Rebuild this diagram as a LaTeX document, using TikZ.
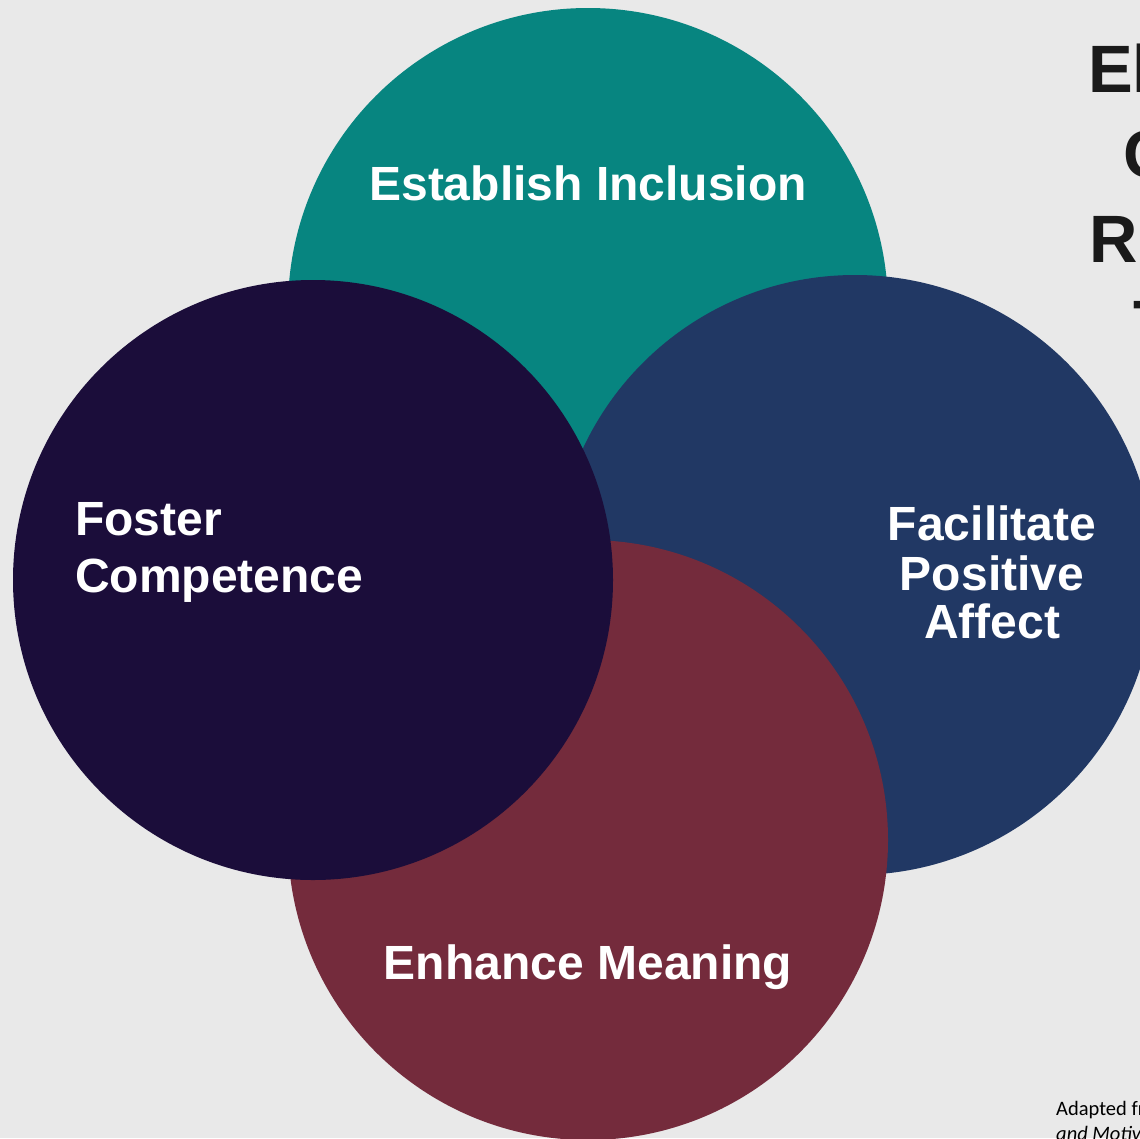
\documentclass[tikz,border=0pt]{standalone}
\usepackage{fontspec}
\setmainfont{Liberation Sans}
\newfontfamily\notefont{Carlito}
\definecolor{bgc}{HTML}{E9E9E9}
\definecolor{tealc}{HTML}{078580}
\definecolor{navyc}{HTML}{213864}
\definecolor{maroonc}{HTML}{742B3C}
\definecolor{purplec}{HTML}{1B0D3A}
\definecolor{titlec}{HTML}{1A1A1A}
\begin{document}
\begin{tikzpicture}[x=1pt,y=-1pt,
  disc/.style={circle,draw=none,inner sep=0pt,minimum size=600pt},
  lbl/.style={text=white,inner sep=0pt,font=\bfseries\fontsize{48}{49}\selectfont},
  ttl/.style={text=titlec,inner sep=0pt,anchor=base,font=\bfseries\fontsize{67}{80}\selectfont},
  note/.style={text=black,inner sep=0pt,anchor=base west,font=\notefont\fontsize{20.5}{24}\selectfont}]
\useasboundingbox (0,0) rectangle (1140,1138);
\begin{scope}
\clip (0,0) rectangle (1140,1138);
\fill[bgc] (0,0) rectangle (1140,1138);
% circles (bottom to top)
\node[disc,fill=tealc] (inclusion) at (588,308) {};
\node[disc,fill=navyc] (affect) at (855,575) {};
\node[disc,fill=maroonc] (meaning) at (588,840) {};
\node[disc,fill=purplec] (competence) at (313,580) {};
% labels
\node[lbl,anchor=base] (tInc) at (588,200) {Establish Inclusion};
\node[lbl,anchor=base west] (tFos1) at (75,535) {Foster};
\node[lbl,anchor=base west] (tFos2) at (75,592) {Competence};
\node[lbl,anchor=base] (tAff1) at (992,540) {Facilitate};
\node[lbl,anchor=base] (tAff2) at (992,590) {Positive};
\node[lbl,anchor=base] (tAff3) at (992,638) {Affect};
\node[lbl,anchor=base] (tMea) at (588,979) {Enhance Meaning};
% title (cut by the right edge, as in the original)
\node[ttl] (title1) at (1278,92) {Elements of};
\node[ttl] (title2) at (1278,177) {Culturally};
\node[ttl] (title3) at (1278,262) {Responsive};
\node[ttl] (title4) at (1278,347) {Teaching};
% source note
\node[note] (src1) at (1056,1115) {Adapted from Wlodkowski \& Ginsberg, \textit{Diversity}};
\node[note] (src2) at (1056,1140) {\textit{and Motivation}};
\end{scope}
\end{tikzpicture}
\end{document}
